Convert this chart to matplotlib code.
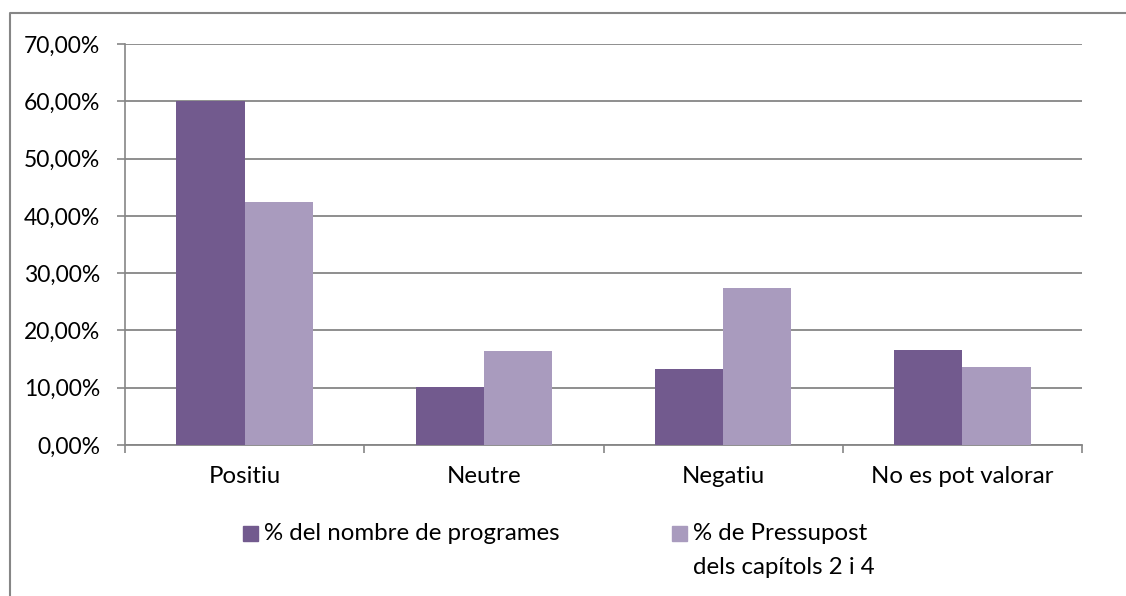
import matplotlib
matplotlib.use("Agg")
import matplotlib.pyplot as plt
from matplotlib.patches import Rectangle
from matplotlib.lines import Line2D
import numpy as np

categories = ["Positiu", "Neutre", "Negatiu", "No es pot valorar"]
programes = [60.0, 10.1, 13.3, 16.6]
pressupost = [42.5, 16.4, 27.4, 13.6]
series_labels = ["% del nombre de programes", "% de Pressupost\ndels capítols 2 i 4"]
yticks = [0, 10, 20, 30, 40, 50, 60, 70]

DARK = "#725a8e"
LIGHT = "#a99bbe"
GRID = "#868686"
FS_TICK = 16.5
FS = 17.3

plt.rcParams["font.family"] = ["Lato", "DejaVu Sans"]

W, H = 1126, 596
fig = plt.figure(figsize=(W / 100, H / 100), dpi=100)
ax = fig.add_axes([125 / W, 1 - 445 / H, (1082 - 125) / W, (445 - 44) / H])

x = np.arange(len(categories))
bw = 1 / 3.5
ax.bar(x - bw / 2, programes, bw, color=DARK, zorder=3)
ax.bar(x + bw / 2, pressupost, bw, color=LIGHT, zorder=3)

ax.set_xlim(-0.5, len(categories) - 0.5)
ax.set_ylim(0, 70)
ax.set_yticks(yticks)
ax.set_yticklabels([f"{v:.2f}".replace(".", ",") + "%" for v in yticks], fontsize=FS_TICK)
ax.yaxis.grid(True, color=GRID, linewidth=1.3, zorder=0)
ax.tick_params(axis="y", length=6, width=1.2, color=GRID, pad=12)

ax.set_xticks(x)
ax.set_xticklabels(categories, fontsize=FS)
ax.tick_params(axis="x", length=0, pad=15)
# category separator ticks
ax.set_xticks(np.arange(len(categories) + 1) - 0.5, minor=True)
ax.tick_params(axis="x", which="minor", length=6, width=1.2, color=GRID, direction="out")

for s in ["top", "right"]:
    ax.spines[s].set_visible(False)
ax.spines["left"].set_color(GRID)
ax.spines["bottom"].set_color(GRID)
ax.spines["left"].set_linewidth(1.2)
ax.spines["bottom"].set_linewidth(1.3)

# legend
line1, line2 = series_labels[1].split("\n")
fig.patches.append(Rectangle((243 / W, 1 - 541 / H), 15 / W, 15 / H,
                             transform=fig.transFigure, color=DARK))
fig.text(264 / W, 1 - 533 / H, series_labels[0], fontsize=FS, va="center")
fig.patches.append(Rectangle((672 / W, 1 - 541 / H), 15 / W, 15 / H,
                             transform=fig.transFigure, color=LIGHT))
fig.text(693 / W, 1 - 533 / H, line1, fontsize=FS, va="center")
fig.text(693 / W, 1 - 567 / H, line2, fontsize=FS, va="center")

# outer frame: only left and top edges fall inside the picture
fx = [9.5 / W, 9.5 / W, 1.0]
fy = [0, 1 - 12.5 / H, 1 - 12.5 / H]
fig.lines.append(Line2D(fx, fy, transform=fig.transFigure, color=GRID, linewidth=1.5))

fig.savefig("out.png", dpi=100)
